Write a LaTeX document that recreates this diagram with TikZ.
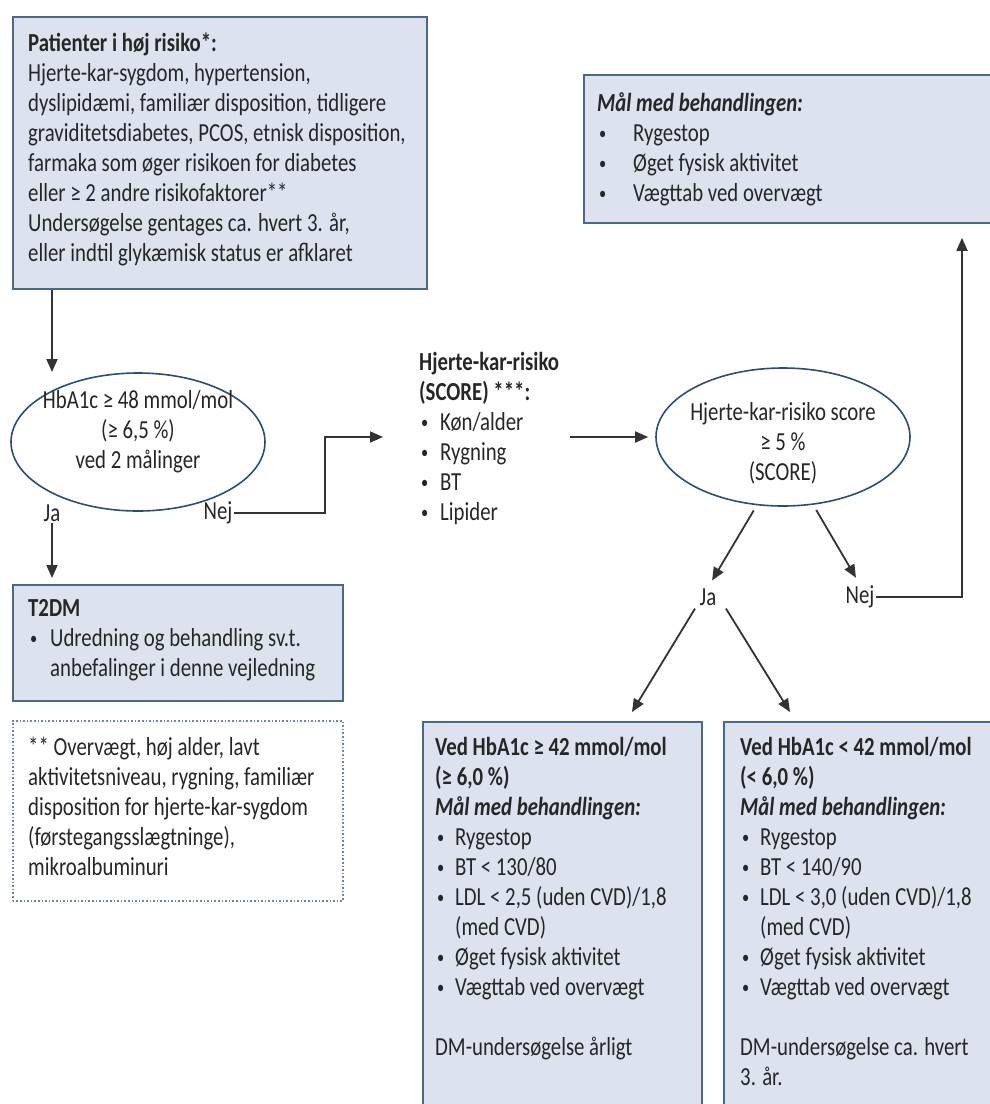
\documentclass[tikz,border=0pt]{standalone}
\usepackage{fontspec}
\setmainfont{Carlito}[FakeStretch=0.80]
\usetikzlibrary{arrows.meta,shapes.geometric}
\definecolor{boxfill}{HTML}{DCE3EF}
\definecolor{boxline}{HTML}{4A6989}
\definecolor{ellline}{HTML}{2E4D72}
\definecolor{txtc}{HTML}{262626}
\definecolor{arrc}{HTML}{333333}
\newcommand{\mybul}[1]{\makebox[#1][l]{\hspace{2pt}\raisebox{1.5pt}{\fontsize{18}{18}\selectfont•}}}
\begin{document}
\begin{tikzpicture}[x=1pt,y=-1pt,
  box/.style={draw=boxline,line width=1.8pt,fill=boxfill,rectangle,anchor=north west,inner sep=0pt},
  dotbox/.style={draw=boxline!80,line width=1.6pt,dotted,rectangle,anchor=north west,inner sep=0pt},
  ell/.style={draw=ellline,line width=1.6pt,fill=white,ellipse,inner sep=0pt,minimum width=254pt,minimum height=138pt},
  txt/.style={anchor=north west,inner sep=0pt,align=left,text=txtc,font=\fontsize{26}{30}\selectfont},
  ctxt/.style={inner sep=0pt,align=center,text=txtc,font=\fontsize{26}{30}\selectfont},
  lbl/.style={inner sep=1pt,text=txtc,font=\fontsize{26}{30}\selectfont},
  arr/.style={draw=arrc,line width=1.8pt,-{Triangle[length=13pt,width=11pt]}},
]
\useasboundingbox (0,0) rectangle (990,1104);
\clip (0,0) rectangle (990,1104);

% boxes
\node[box,minimum width=414pt,minimum height=272pt] (box1) at (12,16) {};
\node[box,minimum width=420pt,minimum height=148pt] (goal) at (583,74) {};
\node[box,minimum width=330pt,minimum height=116pt] (t2dm) at (12,584) {};
\node[dotbox,minimum width=330pt,minimum height=180pt] (note) at (12,720) {};
\node[box,minimum width=279pt,minimum height=420pt] (bl) at (422,721) {};
\node[box,minimum width=300pt,minimum height=420pt] (br) at (723,721) {};
\node[ell] (ell1) at (138,442) {};
\node[ell] (ell2) at (783,437) {};

% texts
\node[txt] (box1t) at (28,30) {\strut\textbf{Patienter i høj risiko*:}\\
Hjerte-kar-sygdom, hypertension,\\
dyslipidæmi, familiær disposition, tidligere\\
graviditetsdiabetes, PCOS, etnisk disposition,\\
farmaka som øger risikoen for diabetes\\
eller ≥ 2 andre risikofaktorer**\\
Undersøgelse gentages ca. hvert 3. år,\\
eller indtil glykæmisk status er afklaret};

\node[txt] (goalt) at (597,90) {\strut\textbf{\textit{Mål med behandlingen:}}\\
\mybul{36pt}Rygestop\\
\mybul{36pt}Øget fysisk aktivitet\\
\mybul{36pt}Vægttab ved overvægt};

\node[ctxt] (ell1t) at (138,432) {HbA1c ≥ 48 mmol/mol\\(≥ 6,5 \%)\\ved 2 målinger};
\node[ctxt] (ell2t) at (783,443) {Hjerte-kar-risiko score\\≥ 5 \%\\(SCORE)};

\node[txt] (risk) at (419,349) {\strut\textbf{Hjerte-kar-risiko}\\
\textbf{(SCORE) ***:}\\
\mybul{21pt}Køn/alder\\
\mybul{21pt}Rygning\\
\mybul{21pt}BT\\
\mybul{21pt}Lipider};

\node[txt] (t2dmt) at (28,595) {\strut\textbf{T2DM}\\
\mybul{22pt}Udredning og behandling sv.t.\\
\hspace*{22pt}anbefalinger i denne vejledning};

\node[txt] (notet) at (28,734) {\strut** Overvægt, høj alder, lavt\\
aktivitetsniveau, rygning, familiær\\
disposition for hjerte-kar-sygdom\\
(førstegangsslægtninge),\\
mikroalbuminuri};

\node[txt] (blt) at (435,734) {\strut\textbf{Ved HbA1c ≥ 42 mmol/mol}\\
\textbf{(≥ 6,0 \%)}\\
\textbf{\textit{Mål med behandlingen:}}\\
\mybul{20pt}Rygestop\\
\mybul{20pt}BT < 130/80\\
\mybul{20pt}LDL < 2,5 (uden CVD)/1,8\\
\hspace*{20pt}(med CVD)\\
\mybul{20pt}Øget fysisk aktivitet\\
\mybul{20pt}Vægttab ved overvægt\\[30pt]
DM-undersøgelse årligt};

\node[txt] (brt) at (740,734) {\strut\textbf{Ved HbA1c < 42 mmol/mol}\\
\textbf{(< 6,0 \%)}\\
\textbf{\textit{Mål med behandlingen:}}\\
\mybul{20pt}Rygestop\\
\mybul{20pt}BT < 140/90\\
\mybul{20pt}LDL < 3,0 (uden CVD)/1,8\\
\hspace*{20pt}(med CVD)\\
\mybul{20pt}Øget fysisk aktivitet\\
\mybul{20pt}Vægttab ved overvægt\\[30pt]
DM-undersøgelse ca. hvert\\
3. år.};

% labels
\node[lbl] (ja1) at (52,513) {Ja};
\node[lbl] (nej1) at (218,513) {Nej};
\node[lbl] (ja2) at (708,597) {Ja};
\node[lbl] (nej2) at (860,597) {Nej};

% coordinates
\coordinate (a1) at (52,372);
\coordinate (c1) at (325,437);
\coordinate (c2) at (383,437);
\coordinate (c3) at (570,437);
\coordinate (c4) at (962,597);

% connectors
\draw[arr] (box1.south -| a1) -- (a1);
\draw[arr,shorten >=6pt] (ja1.south) -- (ja1.south |- t2dm.north);
\draw[arr] (nej1.east) -| (c1) -- (c2);
\draw[arr,shorten >=7pt] (c3) -- (ell2.west);
\draw[arr,shorten <=6pt,shorten >=8pt] (ell2.249) -- (ja2.north);
\draw[arr,shorten <=6pt,shorten >=8pt] (ell2.294) -- (nej2.north);
\draw[arr] ([xshift=-13pt,yshift=-2pt]ja2.south) -- ([xshift=210pt,yshift=9pt]bl.north west);
\draw[arr] ([xshift=18pt,yshift=-2pt]ja2.south) -- ([xshift=67pt,yshift=9pt]br.north west);
\draw[arr,shorten >=14pt] (nej2.east) -- (c4) -- (c4 |- goal.south);
\end{tikzpicture}
\end{document}
